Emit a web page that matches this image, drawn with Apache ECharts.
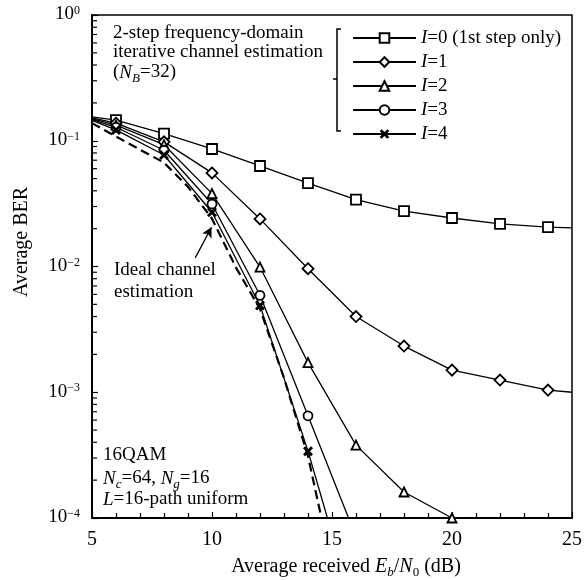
<!DOCTYPE html>
<html>
<head>
<meta charset="utf-8">
<script src="https://cdn.jsdelivr.net/npm/echarts@6/dist/echarts.min.js"></script>
<style>
  html, body { margin: 0; padding: 0; background: #fff; }
  #chart { width: 585px; height: 580px; }
</style>
</head>
<body>
<div id="chart"></div>
<script>
const SERIF = 'Liberation Serif, Times New Roman, serif';

// Eb/N0 (dB) where the markers sit
const markerEbN0 = [6, 8, 10, 12, 14, 16, 18, 20, 22, 24];

// [Eb/N0, BER] (end points carry no marker)
const berI0 = [[5, 0.155], [6, 0.146], [8, 0.114], [10, 0.086], [12, 0.063], [14, 0.046],
  [16, 0.034], [18, 0.0276], [20, 0.0243], [22, 0.0218], [24, 0.0206], [25, 0.0203]];
const berI1 = [[5, 0.152], [6, 0.138], [8, 0.098], [10, 0.0555], [12, 0.0239], [14, 0.0096],
  [16, 0.0040], [18, 0.00233], [20, 0.0015], [22, 0.00125], [24, 0.00104], [25, 0.00100]];
const berI2 = [[5, 0.150], [6, 0.133], [8, 0.093], [10, 0.038], [12, 0.0099], [14, 0.00172],
  [16, 0.00038], [18, 0.000161], [20, 0.0001]];
const berI3 = [[5, 0.148], [6, 0.128], [8, 0.084], [10, 0.0314], [12, 0.0059], [14, 0.00065],
  [15.69, 0.0001]];
const berI4 = [[5, 0.145], [6, 0.122], [8, 0.077], [10, 0.027], [12, 0.0049], [14, 0.00034],
  [14.81, 0.0001]];
const berIdeal = [[5, 0.138], [6, 0.108], [7, 0.085], [8, 0.067], [9, 0.043], [10, 0.024],
  [11, 0.0098], [12, 0.0046], [13, 0.0013], [14, 0.00031], [14.56, 0.0001]];

const legendNames = ['I=0 (1st step only)', 'I=1', 'I=2', 'I=3', 'I=4'];
const yTickLabels = { '0': '0', '-1': '\u22121', '-2': '\u22122', '-3': '\u22123', '-4': '\u22124' };
const yMinorSteps = [2, 3, 4, 5, 6, 7, 8, 9];
const yDecades = [1e-4, 1e-3, 1e-2, 1e-1];

// arrow "Ideal channel estimation" (tail, head) in data units
const arrowTail = [9.3, 0.0117];
const arrowHead = [9.98, 0.0205];

// log minor ticks (2..9 per decade) on the left axis
const yMinorTicks = [];
yDecades.forEach(d => yMinorSteps.forEach(k => yMinorTicks.push([5, k * d])));

function toData(pts) {
  return pts.map(p => markerEbN0.includes(p[0]) ? { value: p } : { value: p, symbol: 'none' });
}

function curve(name, pts, symbol, size, extra) {
  return Object.assign({
    name: name,
    type: 'line',
    data: toData(pts),
    symbol: symbol,
    symbolSize: size,
    lineStyle: { color: '#000', width: 1.3 },
    itemStyle: { color: '#fff', borderColor: '#000', borderWidth: 1.8 },
    z: 3
  }, extra || {});
}

const CROSS = 'path://M0,2L2,0L5,3L8,0L10,2L7,5L10,8L8,10L5,7L2,10L0,8L3,5Z';

const richSub = {
  n: { fontFamily: SERIF, fontSize: 19, lineHeight: 20, verticalAlign: 'top', fill: '#000' },
  i: { fontFamily: SERIF, fontSize: 19, lineHeight: 20, verticalAlign: 'top', fontStyle: 'italic', fill: '#000' },
  si: { fontFamily: SERIF, fontSize: 13, lineHeight: 12, verticalAlign: 'top', fontStyle: 'italic', padding: [9, 0, 0, 0], fill: '#000' },
  s: { fontFamily: SERIF, fontSize: 13, lineHeight: 12, verticalAlign: 'top', padding: [9, 0, 0, 0], fill: '#000' }
};

function label(x, y, text, opts, rotation) {
  return {
    type: 'text', x: x, y: y, silent: true, rotation: rotation || 0,
    style: Object.assign({
      text: text, font: '19px ' + SERIF, fill: '#000',
      align: 'left', verticalAlign: 'middle', rich: richSub
    }, opts || {})
  };
}

const chart = echarts.init(document.getElementById('chart'), null, { renderer: 'canvas' });

chart.setOption({
  animation: false,
  backgroundColor: '#fff',
  grid: { left: 92, right: 12, top: 15, bottom: 62, show: true, borderColor: '#000', borderWidth: 1.5 },
  xAxis: {
    type: 'value', min: 5, max: 25, interval: 5,
    axisLine: { lineStyle: { color: '#000', width: 2 } },
    axisTick: { inside: true, length: 6, lineStyle: { color: '#000', width: 1.2 } },
    minorTick: { show: true, splitNumber: 5, length: 5, lineStyle: { color: '#000', width: 1.2 } },
    splitLine: { show: false },
    axisLabel: { fontFamily: SERIF, fontSize: 20, color: '#000', margin: 12 }
  },
  yAxis: {
    type: 'log', logBase: 10, min: 1e-4, max: 1,
    axisLine: { lineStyle: { color: '#000', width: 2 } },
    axisTick: { inside: true, length: 6, lineStyle: { color: '#000', width: 1.2 } },
    splitLine: { show: false },
    axisLabel: {
      margin: 12, color: '#000',
      formatter: v => '{b|10}{s|' + yTickLabels[String(Math.round(Math.log10(v)))] + '}',
      rich: {
        b: { fontFamily: SERIF, fontSize: 19, lineHeight: 20, verticalAlign: 'top', color: '#000' },
        s: { fontFamily: SERIF, fontSize: 12, lineHeight: 10, verticalAlign: 'top', color: '#000' }
      }
    }
  },
  legend: {
    data: legendNames, orient: 'vertical', left: 347, top: 23,
    itemWidth: 63, itemHeight: 12, itemGap: 4, selectedMode: false,
    formatter: n => '{i|I}{n|' + n.slice(1) + '}',
    textStyle: {
      color: '#000', fontFamily: SERIF, fontSize: 19, lineHeight: 20,
      rich: {
        i: { fontFamily: SERIF, fontSize: 19, fontStyle: 'italic', color: '#000' },
        n: { fontFamily: SERIF, fontSize: 19, color: '#000' }
      }
    }
  },
  series: [
    curve(legendNames[0], berI0, 'rect', 10),
    curve(legendNames[1], berI1, 'diamond', 11),
    curve(legendNames[2], berI2, 'triangle', 9),
    curve(legendNames[3], berI3, 'circle', 9),
    curve(legendNames[4], berI4, CROSS, 10, { itemStyle: { color: '#000', borderWidth: 0 } }),
    {
      name: 'Ideal', type: 'line', data: berIdeal, symbol: 'none', z: 2,
      lineStyle: { color: '#000', width: 2.2, type: [9, 5] },
      markLine: {
        silent: true, symbol: ['none', 'arrow'], symbolSize: [8, 10],
        lineStyle: { color: '#000', type: 'solid', width: 1.3 },
        label: { show: false },
        data: [[{ coord: arrowTail }, { coord: arrowHead }]]
      }
    },
    {
      name: 'yMinor', type: 'custom', coordinateSystem: 'cartesian2d',
      silent: true, clip: false, z: 10,
      data: yMinorTicks,
      encode: { x: 0, y: 1 },
      renderItem: (params, api) => {
        const p = api.coord([api.value(0), api.value(1)]);
        return {
          type: 'line',
          shape: { x1: p[0], y1: p[1], x2: p[0] + 5, y2: p[1] },
          style: { stroke: '#000', lineWidth: 1.2 }
        };
      }
    }
  ],
  graphic: [
    label(113, 33, '2-step frequency-domain'),
    label(113, 52, 'iterative channel estimation'),
    label(113, 73, '{n|(}{i|N}{si|B}{n|=32)}'),
    label(103, 455, '16QAM'),
    label(103, 479, '{i|N}{si|c}{n|=64, }{i|N}{si|g}{n|=16}'),
    label(103, 500, '{i|L}{n|=16-path uniform}'),
    label(114, 270, 'Ideal channel'),
    label(114, 292, 'estimation'),
    label(22, 242, 'Average BER', { align: 'center', font: '20px ' + SERIF }, Math.PI / 2),
    label(346, 567, '{n|Average received }{i|E}{si|b}{n|/}{i|N}{s|0}{n| (dB)}', {
      align: 'center',
      rich: Object.assign({}, richSub, {
        n: Object.assign({}, richSub.n, { fontSize: 20 }),
        i: Object.assign({}, richSub.i, { fontSize: 20 })
      })
    }),
    {
      type: 'polyline', silent: true,
      shape: { points: [[341, 29], [337, 29], [337, 131], [341, 131]] },
      style: { stroke: '#000', lineWidth: 1.5, fill: null }
    },
    {
      type: 'line', silent: true,
      shape: { x1: 333, y1: 79, x2: 337, y2: 79 },
      style: { stroke: '#000', lineWidth: 1.5 }
    }
  ]
});
</script>
</body>
</html>
